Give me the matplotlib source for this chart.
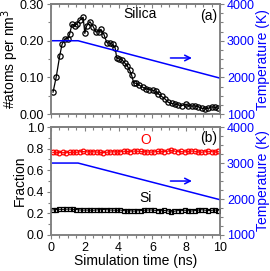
import numpy as np
import matplotlib
matplotlib.use("Agg")
import matplotlib.pyplot as plt
from matplotlib.ticker import MultipleLocator, NullFormatter

plt.rcParams['font.family'] = ['Liberation Sans', 'DejaVu Sans']
plt.rcParams['font.size'] = 10
plt.rcParams['xtick.labelsize'] = 9
plt.rcParams['ytick.labelsize'] = 9

# panel (a): silica density
t_a = [0.12, 0.31, 0.51, 0.65, 0.81, 0.99, 1.10, 1.24, 1.40, 1.54, 1.70, 1.90, 2.00, 2.10,
       2.30, 2.50, 2.65, 2.85, 2.95, 3.13, 3.30, 3.49, 3.65, 3.79, 3.89, 4.05, 4.20, 4.35,
       4.50, 4.65, 4.77, 4.89, 5.03, 5.22, 5.43, 5.62, 5.82, 6.02, 6.21, 6.35, 6.55, 6.75,
       6.94, 7.14, 7.34, 7.53, 7.73, 7.97, 8.12, 8.33, 8.52, 8.72, 8.92, 9.11, 9.31, 9.51,
       9.70, 9.90]
dens = [0.060, 0.102, 0.158, 0.190, 0.205, 0.206, 0.218, 0.245, 0.240, 0.247, 0.256, 0.264,
        0.220, 0.240, 0.252, 0.238, 0.224, 0.224, 0.231, 0.217, 0.195, 0.193, 0.190, 0.181,
        0.153, 0.150, 0.148, 0.140, 0.132, 0.120, 0.106, 0.085, 0.084, 0.079, 0.073, 0.069,
        0.067, 0.065, 0.062, 0.055, 0.048, 0.041, 0.032, 0.029, 0.027, 0.025, 0.023, 0.027,
        0.023, 0.022, 0.022, 0.020, 0.016, 0.014, 0.016, 0.020, 0.018, 0.016]

# temperature schedule
t_temp = [0.1, 1.6, 10.0]
temp = [3000, 3000, 1980]

# panel (b): fractions
t_b = np.round(np.arange(0.1, 10.0, 0.2), 2)
frac_o = [0.765, 0.768, 0.764, 0.766, 0.763, 0.765, 0.767, 0.766, 0.772, 0.774, 0.771, 0.770,
          0.772, 0.769, 0.766, 0.764, 0.767, 0.770, 0.772, 0.769, 0.772, 0.776, 0.774, 0.772,
          0.778, 0.776, 0.775, 0.772, 0.770, 0.768, 0.771, 0.774, 0.775, 0.773, 0.776, 0.785,
          0.778, 0.772, 0.774, 0.770, 0.774, 0.778, 0.776, 0.770, 0.767, 0.771, 0.776, 0.773,
          0.768, 0.775]
frac_si = [0.232, 0.236, 0.238, 0.237, 0.239, 0.240, 0.237, 0.236, 0.232, 0.230, 0.231, 0.230,
           0.229, 0.232, 0.234, 0.236, 0.234, 0.231, 0.230, 0.229, 0.231, 0.226, 0.222, 0.224,
           0.221, 0.224, 0.226, 0.229, 0.231, 0.232, 0.229, 0.226, 0.225, 0.227, 0.224, 0.214,
           0.220, 0.226, 0.225, 0.230, 0.226, 0.222, 0.226, 0.231, 0.234, 0.230, 0.226, 0.228,
           0.232, 0.226]

spine_col = '#808080'

fig = plt.figure(figsize=(2.70, 2.71), dpi=100)
ax1 = fig.add_axes([0.189, 0.579, 0.626, 0.406])
ax2 = fig.add_axes([0.189, 0.133, 0.626, 0.398])


def style(ax, twin):
    for s in ax.spines.values():
        s.set_color(spine_col)
        s.set_linewidth(1.1)
    ax.tick_params(which='both', color=spine_col, width=0.8, pad=2)
    ax.tick_params(which='major', length=3)
    ax.tick_params(which='minor', length=2)
    ax.tick_params(axis='x', which='both', direction='out')
    top = ax.secondary_xaxis('top')
    top.xaxis.set_major_locator(MultipleLocator(2))
    top.xaxis.set_minor_locator(MultipleLocator(0.5))
    top.xaxis.set_major_formatter(NullFormatter())
    top.tick_params(which='both', direction='in', color=spine_col, width=0.8)
    top.tick_params(which='major', length=3)
    top.tick_params(which='minor', length=2)
    top.spines['top'].set_color(spine_col)
    top.spines['top'].set_linewidth(1.1)
    twin.tick_params(which='both', color=spine_col, width=0.8, labelcolor='blue', pad=2)
    twin.tick_params(which='major', length=3)
    twin.tick_params(which='minor', length=2)
    twin.set_ylim(1000, 4000)
    twin.yaxis.set_major_locator(MultipleLocator(1000))
    twin.yaxis.set_minor_locator(MultipleLocator(250))
    for s in twin.spines.values():
        s.set_color(spine_col)
        s.set_linewidth(1.1)
    twin.plot(t_temp, temp, color='blue', lw=1.1)
    ax.text(1.252, 0.5, 'Temperature (K)', transform=ax.transAxes, rotation=90,
            ha='center', va='center', color='blue')


# panel (a)
ax1.plot(t_a, dens, '-o', color='black', lw=0.9, ms=3.8, mfc='none', mew=0.9, zorder=3)
ax1.set_xlim(0, 10)
ax1.set_ylim(0, 0.30)
ax1.set_yticks([0, 0.1, 0.2, 0.3], ['0.00', '0.10', '0.20', '0.30'])
ax1.yaxis.set_minor_locator(MultipleLocator(0.05))
ax1.xaxis.set_major_locator(MultipleLocator(2))
ax1.xaxis.set_minor_locator(MultipleLocator(0.5))
ax1.tick_params(axis='x', labelbottom=False)
ax1.text(-0.24, 0.5, '#atoms per nm$^3$', transform=ax1.transAxes, rotation=90,
         ha='center', va='center')
tw1 = ax1.twinx()
style(ax1, tw1)
ax1.text(0.527, 0.91, 'Silica', transform=ax1.transAxes, ha='center', va='center')
ax1.text(0.982, 0.895, '(a)', transform=ax1.transAxes, ha='right', va='center')
tw1.annotate('', xy=(8.5, 2530), xytext=(6.9, 2530),
             arrowprops=dict(arrowstyle='->', color='blue', lw=1.1))

# panel (b)
ax2.plot(t_b, frac_o, '-o', color='red', lw=0.7, ms=3.4, mfc='none', mew=0.9, zorder=3)
ax2.plot(t_b, frac_si, '-s', color='black', lw=0.7, ms=3.0, mfc='none', mew=0.9, zorder=3)
ax2.set_xlim(0, 10)
ax2.set_ylim(0, 1.0)
ax2.yaxis.set_major_locator(MultipleLocator(0.2))
ax2.yaxis.set_minor_locator(MultipleLocator(0.1))
ax2.xaxis.set_major_locator(MultipleLocator(2))
ax2.xaxis.set_minor_locator(MultipleLocator(0.5))
ax2.text(-0.185, 0.5, 'Fraction', transform=ax2.transAxes, rotation=90,
         ha='center', va='center')
ax2.set_xlabel('Simulation time (ns)', labelpad=0)
tw2 = ax2.twinx()
style(ax2, tw2)
ax2.text(0.56, 0.88, 'O', transform=ax2.transAxes, ha='center', va='center', color='red')
ax2.text(0.56, 0.34, 'Si', transform=ax2.transAxes, ha='center', va='center')
ax2.text(0.982, 0.895, '(b)', transform=ax2.transAxes, ha='right', va='center')
tw2.annotate('', xy=(8.5, 2500), xytext=(6.9, 2500),
             arrowprops=dict(arrowstyle='->', color='blue', lw=1.1))

fig.savefig('out.png', dpi=100)
